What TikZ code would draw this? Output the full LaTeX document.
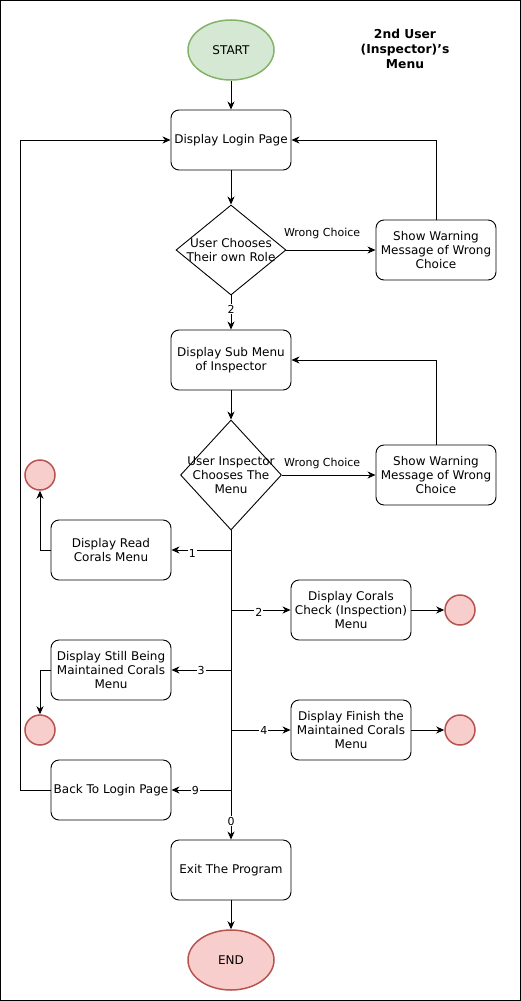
\documentclass[tikz,border=0pt]{standalone}
\usepackage{fontspec}
\setmainfont{DejaVu Sans}
\usetikzlibrary{arrows.meta, positioning, shapes.geometric}

\definecolor{startfill}{HTML}{D5E8D4}
\definecolor{startline}{HTML}{82B366}
\definecolor{endfill}{HTML}{F8CECC}
\definecolor{endline}{HTML}{B85450}

\tikzset{
  process/.style={draw, rounded corners=8pt, minimum width=120pt, minimum height=60pt,
    align=center, inner sep=1pt, font=\fontsize{12}{14}\selectfont},
  decision/.style={draw, diamond, inner sep=0pt, font=\fontsize{12}{14}\selectfont},
  terminal/.style={ellipse, line width=1.5pt, minimum width=86pt, minimum height=60pt,
    font=\fontsize{12}{14}\selectfont},
  stopdot/.style={circle, draw=endline, fill=endfill, line width=1.5pt, minimum size=30pt, inner sep=0pt},
  flow/.style={-{Stealth[length=8pt, width=7pt, inset=2.5pt]}},
  elabel/.style={fill=white, inner sep=1pt, font=\fontsize{11}{13}\selectfont}
}

\begin{document}
\begin{tikzpicture}[x=1pt, y=-1pt, line width=0.9pt]
                \useasboundingbox (0,0) rectangle (521,1001);
                \draw (0.5,0.5) rectangle (520.5,1000.5);

                % Title
                \node[font=\bfseries\fontsize{12.3}{15}\selectfont, align=center] (title) at (405,49) {2nd User\\(Inspector)'s\\Menu};

                % Components
                \node[terminal, draw=startline, fill=startfill] (start) at (231,50) {START};
                \node[process] (login) at (231,140) {Display Login Page};
                \node[decision, minimum width=110pt, minimum height=90pt,
                      label={[align=center, font=\fontsize{12}{14}\selectfont]center:User Chooses\\Their own Role}] (role) at (231,250) {};
                \node[process] (warn1) at (436,250) {Show Warning\\Message of Wrong\\Choice};
                \node[process] (submenu) at (231,360) {Display Sub Menu\\of Inspector};
                \node[decision, minimum width=101pt, minimum height=110pt,
                      label={[align=center, font=\fontsize{12}{14}\selectfont]center:User Inspector\\Chooses The\\Menu}] (menu) at (231,475) {};
                \node[process] (warn2) at (436,475) {Show Warning\\Message of Wrong\\Choice};

                % Menu entries
                \node[process] (read) at (111,550) {Display Read\\Corals Menu};
                \node[process] (check) at (351,610) {Display Corals\\Check (Inspection)\\Menu};
                \node[process] (still) at (111,670) {Display Still Being\\Maintained Corals\\Menu};
                \node[process] (finish) at (351,730) {Display Finish the\\Maintained Corals\\Menu};
                \node[process] (back) at (111,790) {Back To Login Page};
                \node[process] (exit) at (231,870) {Exit The Program};
                \node[terminal, draw=endline, fill=endfill] (end) at (231,960) {END};

                % End dots
                \node[stopdot] (dot1) at (40,475) {};
                \node[stopdot] (dot2) at (460,610) {};
                \node[stopdot] (dot3) at (40,730) {};
                \node[stopdot] (dot4) at (460,730) {};

                % Branch points
                \coordinate (b1) at (231,550);
                \coordinate (b2) at (231,610);
                \coordinate (b3) at (231,670);
                \coordinate (b4) at (231,730);
                \coordinate (b9) at (231,790);
                \coordinate (loopback) at (20,140);

                % Flow
                \draw[flow] (start) -- (login);
                \draw[flow] (login) -- (role);
                \draw[flow] (role) -- node[elabel, pos=0.4, above=10pt]{Wrong Choice} (warn1);
                \draw[flow] (warn1.north) |- (login.east);
                \draw[flow] (role.south) -- node[elabel, pos=0.4]{2} (submenu.north);
                \draw[flow] (submenu) -- (menu);
                \draw[flow] (menu) -- node[elabel, pos=0.43, above=5pt]{Wrong Choice} (warn2);
                \draw[flow] (warn2.north) |- (submenu.east);
                \draw[flow] (menu.south) -- node[elabel, pos=0.94]{0} (exit.north);

                % Menu branches
                \draw[flow] (b1) -- node[elabel, pos=0.65, yshift=-3pt]{1} (read.east);
                \draw[flow] (b2) -- node[elabel, pos=0.47, yshift=-2pt]{2} (check.west);
                \draw[flow] (b3) -- node[elabel, pos=0.5]{3} (still.east);
                \draw[flow] (b4) -- node[elabel, pos=0.55]{4} (finish.west);
                \draw[flow] (b9) -- node[elabel, pos=0.6]{9} (back.east);
                \draw[flow] (read.west) -| (dot1.south);
                \draw[flow] (still.west) -| (dot3.north);
                \draw[flow] (check) -- (dot2);
                \draw[flow] (finish) -- (dot4);
                \draw[flow] (back.west) -| (loopback) -- (login.west);
                \draw[flow] (exit) -- (end);
            \end{tikzpicture}
\end{document}
